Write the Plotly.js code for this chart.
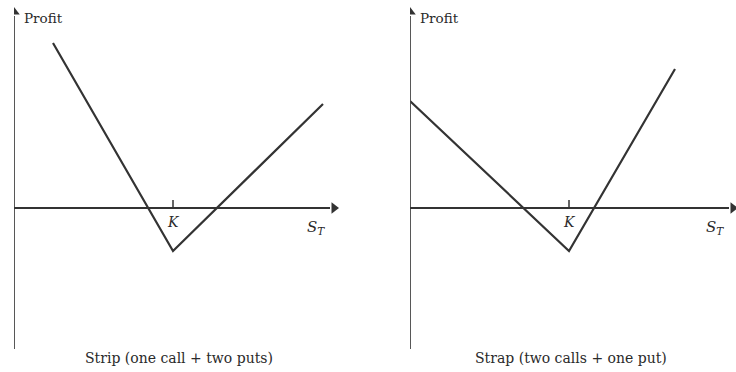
<!DOCTYPE html>
<html><head><meta charset="utf-8">
<script src="https://cdn.plot.ly/plotly-3.0.1.min.js"></script>
<style>html,body{margin:0;padding:0;background:#fff}</style>
</head><body><div id="chart" style="width:736px;height:372px"></div>
<script>
// Profit diagrams (arbitrary units), strike K on the S_T axis
const K = 159;
const stripST = [39, 159, 309];
const stripProfit = [165, -43, 104];
const strapST = [0, 159, 265];
const strapProfit = [107, -43, 139];
const captions = ["Strip (one call + two puts)", "Strap (two calls + one put)"];
const axisLabels = {y: "Profit", x: "S", xsub: "T", k: "K"};

const yTop = 196, yBottom = -141;
const xEnd = [320, 323];
const serif = "DejaVu Serif, Liberation Serif, serif";
const ink = "#2a2a2a";

const traces = [
  {x: stripST, y: stripProfit, xaxis: "x", yaxis: "y", mode: "lines", line: {color: "#333", width: 2.2}, hoverinfo: "skip"},
  {x: strapST, y: strapProfit, xaxis: "x2", yaxis: "y", mode: "lines", line: {color: "#333", width: 2.2}, hoverinfo: "skip"}
];

const ann = [];
const shapes = [];
[["x", 0], ["x2", 1]].forEach(([xr, i]) => {
  // axis lines
  shapes.push({type: "line", xref: xr, yref: "y", x0: 0, x1: 0, y0: yBottom, y1: yTop - 4, line: {color: "#444", width: 1.8}});
  shapes.push({type: "line", xref: xr, yref: "y", x0: 0, x1: xEnd[i] - 4, y0: 0, y1: 0, line: {color: "#333", width: 1.8}});
  // arrowheads
  traces.push({x: [0, xEnd[i]], y: [yTop, 0], xaxis: xr, yaxis: "y", mode: "markers", hoverinfo: "skip",
    marker: {symbol: ["triangle-up", "triangle-right"], size: 10, color: "#333", line: {width: 0}}});
  // K tick
  shapes.push({type: "line", xref: xr, yref: "y", x0: K, x1: K, y0: 0, y1: 8, line: {color: "#333", width: 1.5}});
  ann.push({xref: xr, yref: "y", x: K, y: -14, text: "<i>" + axisLabels.k + "</i>", showarrow: false,
    font: {family: serif, size: 14, color: ink}});
  ann.push({xref: xr, yref: "y", x: xEnd[i] - 18, y: -19, text: "<i>" + axisLabels.x + "<sub>" + axisLabels.xsub + "</sub></i>", showarrow: false,
    font: {family: serif, size: 15, color: ink}});
  ann.push({xref: xr, yref: "y", x: 8, y: 190, xanchor: "left", text: axisLabels.y, showarrow: false,
    font: {family: serif, size: 13.5, color: ink}});
  ann.push({xref: xr, yref: "y", x: [165, 161][i], y: -150, text: captions[i], showarrow: false,
    font: {family: serif, size: 14, color: ink}});
});

const axBase = {showgrid: false, zeroline: false, showticklabels: false, ticks: "", showline: false, fixedrange: true};
const layout = {
  width: 736, height: 372,
  margin: {l: 0, r: 0, t: 0, b: 0},
  paper_bgcolor: "#fff", plot_bgcolor: "#fff",
  showlegend: false,
  xaxis: Object.assign({}, axBase, {domain: [14/736, 400/736], range: [0, 386]}),
  xaxis2: Object.assign({}, axBase, {domain: [410/736, 1], range: [0, 326], anchor: "y"}),
  yaxis: Object.assign({}, axBase, {domain: [0, 1], range: [-164, 208]}),
  annotations: ann,
  shapes: shapes
};
Plotly.newPlot("chart", traces, layout, {displayModeBar: false, staticPlot: true});
</script></body></html>
